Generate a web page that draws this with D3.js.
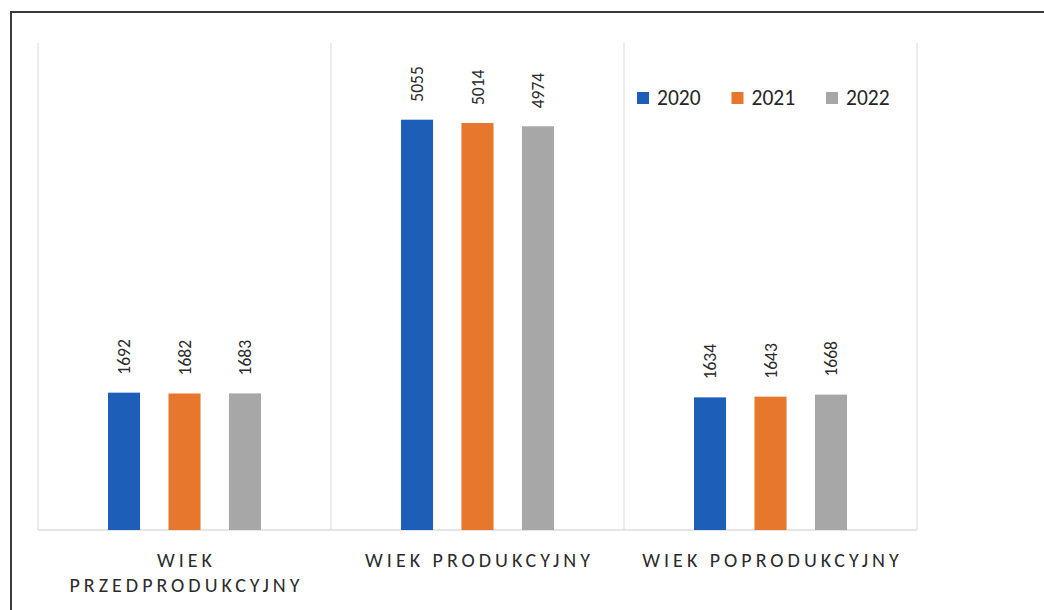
<!DOCTYPE html>
<html>
<head>
<meta charset="utf-8">
<script src="https://cdn.jsdelivr.net/npm/d3@7"></script>
<style>
  body { margin: 0; background: #fff; }
  svg { display: block; font-family: Calibri, Carlito, Lato, "Open Sans", sans-serif; }
</style>
</head>
<body>
<div id="viz"></div>
<script>
// data
const categories = [["WIEK", "PRZEDPRODUKCYJNY"], ["WIEK PRODUKCYJNY"], ["WIEK POPRODUKCYJNY"]];
const years = ["2020", "2021", "2022"];
const values2020 = [1692, 5055, 1634];
const values2021 = [1682, 5014, 1643];
const values2022 = [1683, 4974, 1668];
const colors = ["#1d5eb9", "#e8772e", "#a7a7a7"];

let svgWidth = 1044, svgHeight = 610;
let margin = { left: 38, right: 127, top: 43, bottom: 80 };
let width = svgWidth - margin.left - margin.right;
let height = svgHeight - margin.top - margin.bottom;

const svg = d3.select('#viz')
    .append('svg')
    .attr('width', svgWidth)
    .attr('height', svgHeight);

// scanned page frame
svg.append('path')
    .attr('d', 'M11,610 V12 H1044')
    .attr('fill', 'none')
    .attr('stroke', '#3a3a3a')
    .attr('stroke-width', 2);

const g = svg.append('g')
    .attr('transform', `translate(${margin.left},${margin.top})`);

let xScale = d3.scaleBand()
    .domain(d3.range(categories.length))
    .range([0, width]);

// bars sit a bit left of the band centre, like the original
let xInner = d3.scaleBand()
    .domain(years)
    .range([70, 223])
    .paddingInner(0.47)
    .paddingOuter(0);

let yScale = d3.scaleLinear()
    .domain([0, 6000])
    .range([height, 0]);

// category separators
g.append('g')
    .selectAll('line')
    .data(d3.range(categories.length + 1))
    .join('line')
    .attr('x1', d => d * xScale.bandwidth())
    .attr('x2', d => d * xScale.bandwidth())
    .attr('y1', 0)
    .attr('y2', height)
    .attr('stroke', '#e6e6e6')
    .attr('stroke-width', 1.5);

// baseline
g.append('line')
    .attr('x1', 0)
    .attr('x2', width)
    .attr('y1', height)
    .attr('y2', height)
    .attr('stroke', '#dcdcdc')
    .attr('stroke-width', 1.5);

let series = [values2020, values2021, values2022];
let rows = [];
categories.forEach((c, i) => {
    years.forEach((y, j) => {
        rows.push({ cat: i, year: y, value: series[j][i], color: colors[j] });
    });
});

g.append('g')
    .selectAll('rect')
    .data(rows)
    .join('rect')
    .attr('x', d => xScale(d.cat) + xInner(d.year))
    .attr('width', xInner.bandwidth())
    .attr('y', d => yScale(d.value))
    .attr('height', d => height - yScale(d.value))
    .attr('fill', d => d.color);

// value labels, rotated
g.append('g')
    .selectAll('text')
    .data(rows)
    .join('text')
    .attr('transform', d => {
        let x = xScale(d.cat) + xInner(d.year) + xInner.bandwidth() / 2 + 6;
        let y = yScale(d.value) - 18;
        return `translate(${x},${y}) rotate(-90)`;
    })
    .attr('text-anchor', 'start')
    .attr('font-size', 17.5)
    .attr('fill', '#2b2b2b')
    .text(d => d.value);

// category labels
let catLabels = g.append('g')
    .selectAll('text')
    .data(categories)
    .join('text')
    .attr('x', (d, i) => xScale(i) + xScale.bandwidth() / 2 + 2)
    .attr('y', height + 37)
    .attr('text-anchor', 'middle')
    .attr('font-size', 20)
    .attr('letter-spacing', 4)
    .attr('fill', '#2b2b2b');
catLabels.selectAll('tspan')
    .data(d => d)
    .join('tspan')
    .attr('x', function () { return d3.select(this.parentNode).attr('x'); })
    .attr('dy', (d, i) => i === 0 ? 0 : 25)
    .text(d => d);

// legend
let legend = svg.append('g')
    .attr('transform', 'translate(637,91)')
    .selectAll('g')
    .data(years)
    .join('g')
    .attr('transform', (d, i) => `translate(${i * 94.5},0)`);
legend.append('rect')
    .attr('width', 12)
    .attr('height', 12)
    .attr('y', 1)
    .attr('fill', (d, i) => colors[i]);
legend.append('text')
    .attr('x', 20)
    .attr('y', 14)
    .attr('font-size', 21.5)
    .attr('fill', '#262626')
    .text(d => d);
</script>
</body>
</html>
